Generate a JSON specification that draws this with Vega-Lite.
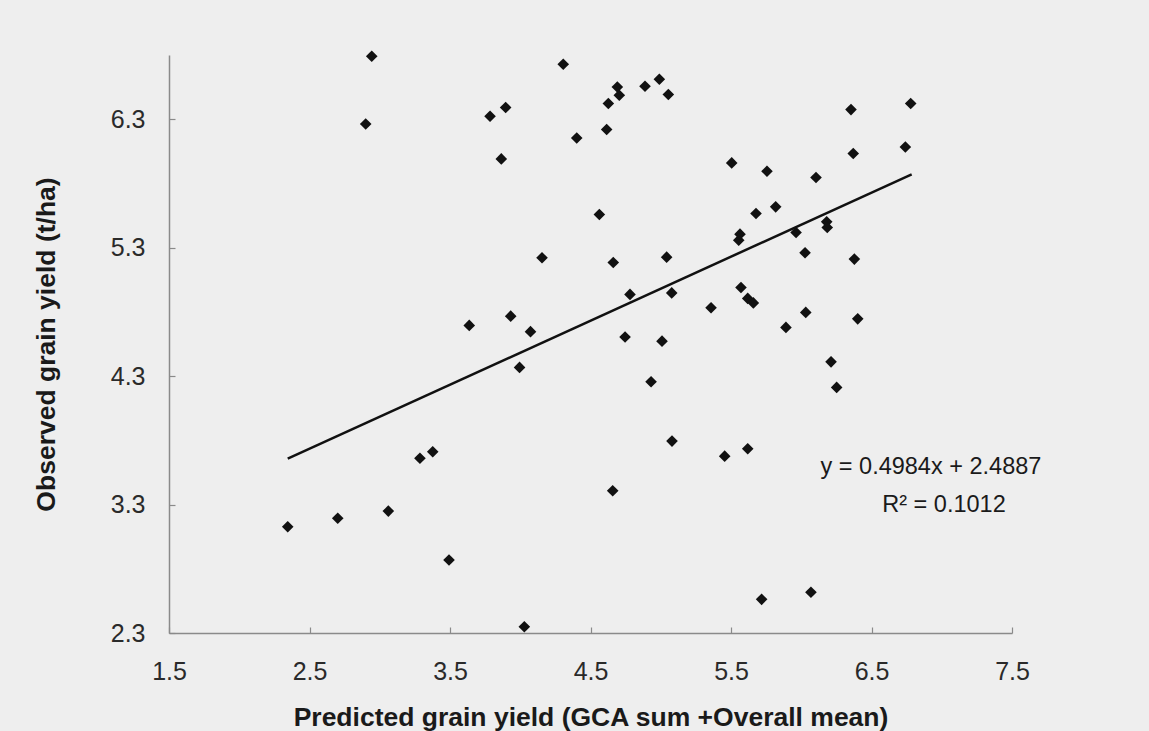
{
  "$schema": "https://vega.github.io/schema/vega-lite/v6.json",
  "autosize": "none",
  "width": 843,
  "height": 578,
  "padding": {"left": 169, "top": 55, "right": 137, "bottom": 98},
  "background": "#eeeeee",
  "config": {
    "view": {"stroke": null},
    "font": "Liberation Sans",
    "axis": {
      "grid": false,
      "domainColor": "#8a8a8a",
      "domainWidth": 1.5,
      "tickColor": "#8a8a8a",
      "tickWidth": 1.2,
      "tickSize": -6,
      "labelFlush": false,
      "labelFont": "Liberation Sans",
      "labelFontSize": 25,
      "labelColor": "#2a2a2a",
      "titleFont": "Liberation Sans",
      "titleFontSize": 26.5,
      "titleFontWeight": "bold",
      "titleColor": "#1a1a1a"
    }
  },
  "datasets": {
    "points": [
      {"x": 2.345, "y": 3.127}, {"x": 2.701, "y": 3.193}, {"x": 2.943, "y": 6.790},
      {"x": 2.900, "y": 6.263}, {"x": 3.061, "y": 3.249}, {"x": 3.286, "y": 3.660},
      {"x": 3.377, "y": 3.711}, {"x": 3.493, "y": 2.868}, {"x": 3.637, "y": 4.695},
      {"x": 3.785, "y": 6.323}, {"x": 3.865, "y": 5.991}, {"x": 3.896, "y": 6.391},
      {"x": 3.932, "y": 4.767}, {"x": 3.995, "y": 4.368}, {"x": 4.029, "y": 2.349},
      {"x": 4.073, "y": 4.646}, {"x": 4.155, "y": 5.221}, {"x": 4.306, "y": 6.728},
      {"x": 4.402, "y": 6.154}, {"x": 4.563, "y": 5.558}, {"x": 4.615, "y": 6.220},
      {"x": 4.627, "y": 6.422}, {"x": 4.658, "y": 3.407}, {"x": 4.662, "y": 5.185},
      {"x": 4.691, "y": 6.551}, {"x": 4.705, "y": 6.487}, {"x": 4.746, "y": 4.604},
      {"x": 4.781, "y": 4.936}, {"x": 4.888, "y": 6.557}, {"x": 4.931, "y": 4.256},
      {"x": 4.990, "y": 6.611}, {"x": 5.009, "y": 4.572}, {"x": 5.042, "y": 5.226},
      {"x": 5.054, "y": 6.492}, {"x": 5.078, "y": 4.948}, {"x": 5.080, "y": 3.794},
      {"x": 5.358, "y": 4.832}, {"x": 5.455, "y": 3.677}, {"x": 5.505, "y": 5.960},
      {"x": 5.555, "y": 5.358}, {"x": 5.564, "y": 5.405}, {"x": 5.571, "y": 4.990},
      {"x": 5.619, "y": 4.905}, {"x": 5.619, "y": 3.734}, {"x": 5.659, "y": 4.870},
      {"x": 5.678, "y": 5.566}, {"x": 5.718, "y": 2.562}, {"x": 5.756, "y": 5.895},
      {"x": 5.818, "y": 5.618}, {"x": 5.891, "y": 4.679}, {"x": 5.963, "y": 5.418},
      {"x": 6.027, "y": 5.260}, {"x": 6.032, "y": 4.796}, {"x": 6.069, "y": 2.617},
      {"x": 6.105, "y": 5.846}, {"x": 6.181, "y": 5.501}, {"x": 6.185, "y": 5.457},
      {"x": 6.212, "y": 4.411}, {"x": 6.252, "y": 4.212}, {"x": 6.354, "y": 6.375},
      {"x": 6.370, "y": 6.033}, {"x": 6.378, "y": 5.211}, {"x": 6.402, "y": 4.746},
      {"x": 6.741, "y": 6.084}, {"x": 6.779, "y": 6.422}
    ],
    "trend": [
      {"x": 2.345, "y": 3.6575},
      {"x": 6.786, "y": 5.8709}
    ],
    "notes": [
      {"x": 6.923, "y": 3.592, "label": "y = 0.4984x + 2.4887"},
      {"x": 7.016, "y": 3.296, "label": "R² = 0.1012"}
    ]
  },
  "layer": [
    {
      "data": {"name": "trend"},
      "mark": {"type": "line", "color": "#111111", "strokeWidth": 2.5},
      "encoding": {
        "x": {
          "field": "x", "type": "quantitative",
          "scale": {"domain": [1.5, 7.5], "nice": false, "zero": false},
          "axis": {
            "values": [1.5, 2.5, 3.5, 4.5, 5.5, 6.5, 7.5],
            "format": ".1f",
            "labelPadding": 32,
            "titlePadding": 20,
            "title": "Predicted grain yield (GCA sum +Overall mean)"
          }
        },
        "y": {
          "field": "y", "type": "quantitative",
          "scale": {"domain": [2.3, 6.8], "nice": false, "zero": false},
          "axis": {
            "values": [2.3, 3.3, 4.3, 5.3, 6.3],
            "format": ".1f",
            "labelPadding": 30,
            "titlePadding": 50,
            "title": "Observed grain yield (t/ha)"
          }
        }
      }
    },
    {
      "data": {"name": "points"},
      "mark": {"type": "point", "shape": "diamond", "filled": true, "color": "#111111", "size": 135, "opacity": 1},
      "encoding": {
        "x": {"field": "x", "type": "quantitative"},
        "y": {"field": "y", "type": "quantitative"}
      }
    },
    {
      "data": {"name": "notes"},
      "mark": {"type": "text", "font": "Liberation Sans", "fontSize": 23.5, "color": "#1a1a1a", "align": "center", "baseline": "middle"},
      "encoding": {
        "x": {"field": "x", "type": "quantitative"},
        "y": {"field": "y", "type": "quantitative"},
        "text": {"field": "label"}
      }
    }
  ]
}
